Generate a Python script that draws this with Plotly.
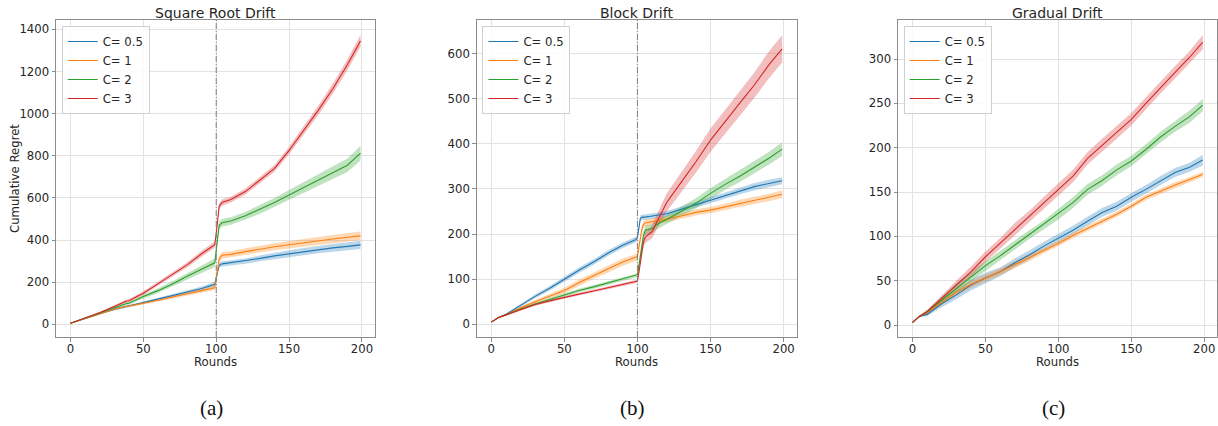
import plotly.graph_objects as go

# ---------------- data ----------------
labels = ["C= 0.5", "C= 1", "C= 2", "C= 3"]
colors = ["#1f77b4", "#ff7f0e", "#2ca02c", "#d62728"]
band_colors = ["rgba(31,119,180,0.3)", "rgba(255,127,14,0.3)",
               "rgba(44,160,44,0.3)", "rgba(214,39,40,0.3)"]

# Panel (a) Square Root Drift
rounds_a = [0, 10, 20, 30, 38, 40, 50, 60, 70, 80, 90, 99, 100, 101, 102, 104,
            110, 120, 130, 140, 150, 160, 170, 180, 190, 199]
a_c05 = [5, 28, 52, 72, 85, 87, 103, 120, 135, 152, 170, 190, 225, 260, 280, 287,
         293, 300, 313, 325, 335, 345, 355, 363, 370, 377]
a_c1 = [5, 28, 52, 72, 85, 87, 100, 114, 128, 145, 160, 173, 215, 270, 310, 328,
        332, 345, 358, 368, 378, 388, 398, 405, 413, 420]
a_c2 = [5, 30, 55, 80, 98, 100, 132, 160, 192, 228, 262, 292, 350, 420, 470, 482,
        490, 515, 545, 578, 614, 650, 685, 720, 755, 812]
a_c3 = [5, 30, 55, 85, 110, 112, 148, 192, 238, 282, 335, 378, 430, 500, 560, 578,
        592, 630, 685, 740, 825, 920, 1015, 1118, 1232, 1345]
a_c05_sd = [1, 2, 3, 4, 5, 5, 6, 7, 8, 9, 10, 12, 12, 12, 12, 12, 12, 13, 14, 15, 16, 17, 18, 18, 19, 20]
a_c1_sd = [1, 2, 3, 4, 5, 5, 6, 7, 8, 9, 10, 10, 12, 14, 15, 15, 15, 16, 16, 17, 18, 18, 19, 19, 20, 20]
a_c2_sd = [1, 3, 5, 6, 7, 7, 9, 11, 13, 15, 18, 20, 20, 20, 20, 18, 18, 18, 20, 22, 24, 26, 28, 30, 32, 35]
a_c3_sd = [1, 3, 5, 6, 7, 7, 9, 10, 11, 12, 14, 15, 15, 15, 15, 15, 14, 14, 15, 16, 18, 20, 22, 24, 26, 28]

# Panel (b) Block Drift
rounds_b = [0, 5, 10, 20, 30, 40, 50, 60, 70, 80, 90, 99, 100, 101, 102, 103, 104, 105,
            106, 108, 110, 113, 116, 120, 130, 140, 150, 160, 170, 180, 190, 199]
b_c05 = [5, 15, 22, 42, 62, 80, 100, 120, 138, 158, 175, 188, 192, 215, 235, 237, 237, 238,
         238, 239, 240, 241, 242, 245, 255, 265, 275, 285, 295, 305, 312, 318]
b_c1 = [5, 15, 21, 37, 50, 62, 75, 92, 108, 123, 138, 148, 150, 170, 195, 210, 220, 224,
        225, 226, 228, 230, 231, 233, 240, 248, 253, 260, 268, 275, 281, 288]
b_c2 = [5, 15, 21, 34, 45, 55, 65, 75, 83, 92, 100, 108, 110, 130, 155, 175, 195, 205,
        210, 210, 212, 220, 226, 232, 250, 268, 290, 310, 328, 348, 368, 388]
b_c3 = [5, 15, 21, 33, 44, 52, 60, 67, 74, 81, 88, 94, 96, 115, 140, 165, 180, 190,
        195, 200, 205, 225, 245, 270, 315, 360, 408, 450, 490, 530, 575, 610]
b_c05_sd = [0.5, 1, 2, 3, 4, 5, 6, 6, 6, 6, 6, 6, 6, 6, 6, 6, 6, 6, 6, 6, 6, 6, 6, 6, 6, 7, 7, 7, 7, 8, 8, 8]
b_c1_sd = [0.5, 1, 2, 3, 4, 5, 6, 7, 7, 8, 8, 8, 8, 8, 8, 8, 8, 8, 8, 7, 7, 7, 7, 7, 7, 7, 7, 7, 8, 8, 8, 9]
b_c2_sd = [0.5, 1, 2, 3, 3, 4, 4, 4, 4, 4, 4, 4, 4, 6, 8, 10, 10, 10, 10, 10, 10, 10, 10, 10, 10, 11, 12, 12, 13, 13, 14, 15]
b_c3_sd = [0.5, 1, 2, 3, 3, 3, 3, 3, 3, 3, 3, 3, 3, 6, 10, 12, 12, 12, 14, 14, 15, 16, 18, 20, 22, 24, 26, 26, 28, 28, 30, 30]

# Panel (c) Gradual Drift
rounds_c = [0, 5, 10, 20, 30, 40, 50, 60, 70, 80, 90, 100, 110, 120, 130, 140, 150,
            160, 170, 180, 190, 199]
c_c05 = [3, 10, 12, 24, 34, 45, 53, 60, 70, 79, 89, 98, 107, 117, 127, 134, 144, 153, 163, 172, 178, 186]
c_c1 = [3, 10, 14, 26, 37, 46, 53, 60, 68, 76, 84, 92, 101, 109, 117, 125, 134, 144, 151, 158, 164, 170]
c_c2 = [3, 10, 15, 28, 42, 55, 67, 78, 90, 102, 113, 125, 138, 153, 163, 175, 185, 198, 212, 224, 235, 248]
c_c3 = [3, 10, 15, 30, 45, 60, 77, 92, 108, 122, 138, 153, 168, 188, 203, 217, 232, 250, 268, 285, 302, 319]
c_c05_sd = [0.5, 1, 2, 4, 5, 6, 6, 5, 5, 5, 5, 5, 5, 5, 5, 5, 5, 5, 5, 5, 5, 6]
c_c1_sd = [0.5, 1, 2, 3, 4, 4, 4, 4, 4, 4, 3, 3, 3, 3, 3, 3, 3, 3, 3, 3, 3, 3]
c_c2_sd = [0.5, 1, 2, 4, 5, 5, 5, 5, 5, 5, 5, 6, 6, 6, 6, 6, 6, 6, 6, 6, 7, 7]
c_c3_sd = [0.5, 1, 2, 4, 5, 6, 6, 6, 7, 7, 7, 7, 7, 7, 7, 7, 7, 7, 7, 7, 7, 8]

titles = ["Square Root Drift", "Block Drift", "Gradual Drift"]
captions = ["(a)", "(b)", "(c)"]
x_ticks = [0, 50, 100, 150, 200]
y_ticks_a = [0, 200, 400, 600, 800, 1000, 1200, 1400]
y_ticks_b = [0, 100, 200, 300, 400, 500, 600]
y_ticks_c = [0, 50, 100, 150, 200, 250, 300]
drift_point = 100

panels = [
    (rounds_a, [a_c05, a_c1, a_c2, a_c3], [a_c05_sd, a_c1_sd, a_c2_sd, a_c3_sd], y_ticks_a, [-60, 1444], True),
    (rounds_b, [b_c05, b_c1, b_c2, b_c3], [b_c05_sd, b_c1_sd, b_c2_sd, b_c3_sd], y_ticks_b, [-28, 674], True),
    (rounds_c, [c_c05, c_c1, c_c2, c_c3], [c_c05_sd, c_c1_sd, c_c2_sd, c_c3_sd], y_ticks_c, [-13.5, 344], False),
]

# ---------------- layout geometry ----------------
W, H = 1218, 426
x_domains = [[56 / W, 375 / W], [476.7 / W, 796.7 / W], [898 / W, 1217.3 / W]]
y_domain = [1 - 337 / H, 1 - 20 / H]

FONT = "DejaVu Sans"
TXT = "#262626"
SPINE = "#8c8c8c"
GRID = "#e2e2e2"

fig = go.Figure()
layout = dict(
    width=W, height=H,
    margin=dict(l=0, r=0, t=0, b=0),
    paper_bgcolor="white", plot_bgcolor="white",
    font=dict(family=FONT, size=11.7, color=TXT),
    showlegend=True,
)
annotations = []
shapes = []

for i, (rounds, series, sds, yt, yr, vline) in enumerate(panels):
    sfx = "" if i == 0 else str(i + 1)
    xa, ya = "x" + sfx, "y" + sfx
    leg = "legend" + sfx
    for k in range(4):
        mean = series[k]
        sd = sds[k]
        upper = [m + s for m, s in zip(mean, sd)]
        lower = [m - s for m, s in zip(mean, sd)]
        fig.add_trace(go.Scatter(
            x=list(rounds) + list(rounds)[::-1], y=upper + lower[::-1],
            fill="toself", fillcolor=band_colors[k], line=dict(width=0),
            mode="lines", showlegend=False, hoverinfo="skip",
            xaxis=xa, yaxis=ya))
    for k in range(4):
        fig.add_trace(go.Scatter(
            x=rounds, y=series[k], mode="lines", name=labels[k],
            line=dict(color=colors[k], width=1.1),
            xaxis=xa, yaxis=ya, legend=leg))

    layout["xaxis" + sfx] = dict(
        domain=x_domains[i], anchor=ya, range=[-9.95, 208.95],
        tickvals=x_ticks, ticks="outside", ticklen=3.5, tickcolor=SPINE,
        ticklabelstandoff=-3,
        showline=True, linecolor=SPINE, linewidth=1, mirror=True,
        showgrid=True, gridcolor=GRID, gridwidth=1, zeroline=False,
        tickfont=dict(family=FONT, size=11.7, color=TXT))
    layout["yaxis" + sfx] = dict(
        domain=y_domain, anchor=xa, range=yr,
        tickvals=yt, ticks="outside", ticklen=3.5, tickcolor=SPINE,
        showline=True, linecolor=SPINE, linewidth=1, mirror=True,
        showgrid=True, gridcolor=GRID, gridwidth=1, zeroline=False,
        tickfont=dict(family=FONT, size=11.7, color=TXT))
    layout[leg] = dict(
        x=x_domains[i][0] + 5.7 / W, y=1 - 26 / H, xanchor="left", yanchor="top",
        bgcolor="rgba(255,255,255,0.85)", bordercolor="#d0d0d0", borderwidth=1,
        font=dict(family=FONT, size=11.7, color=TXT), tracegroupgap=0)

    cx = (x_domains[i][0] + x_domains[i][1]) / 2
    annotations.append(dict(text=titles[i], x=cx, y=1 - 12.7 / H, xref="paper", yref="paper",
                            showarrow=False, font=dict(family=FONT, size=14, color=TXT),
                            xanchor="center", yanchor="middle"))
    annotations.append(dict(text="Rounds", x=cx, y=1 - 362 / H, xref="paper", yref="paper",
                            showarrow=False, font=dict(family=FONT, size=11.7, color=TXT),
                            xanchor="center", yanchor="middle"))
    annotations.append(dict(text=captions[i], x=cx - 4 / W, y=1 - 408 / H, xref="paper", yref="paper",
                            showarrow=False, font=dict(family="Liberation Serif", size=21, color="#111"),
                            xanchor="center", yanchor="middle"))
    if vline:
        shapes.append(dict(type="line", xref=xa, yref=ya + " domain",
                           x0=drift_point, x1=drift_point, y0=0, y1=1,
                           line=dict(color="#7f7f7f", width=1, dash="6px,2px,1px,2px")))

annotations.append(dict(text="Cumulative Regret", x=15 / W, y=1 - 179 / H, xref="paper", yref="paper",
                        showarrow=False, textangle=-90, font=dict(family=FONT, size=11.7, color=TXT),
                        xanchor="center", yanchor="middle"))

layout["annotations"] = annotations
layout["shapes"] = shapes
fig.update_layout(**layout)
fig.write_html("out.html", config={"displayModeBar": False},
               post_script="document.body.style.margin='0px';document.body.style.overflow='hidden';")
